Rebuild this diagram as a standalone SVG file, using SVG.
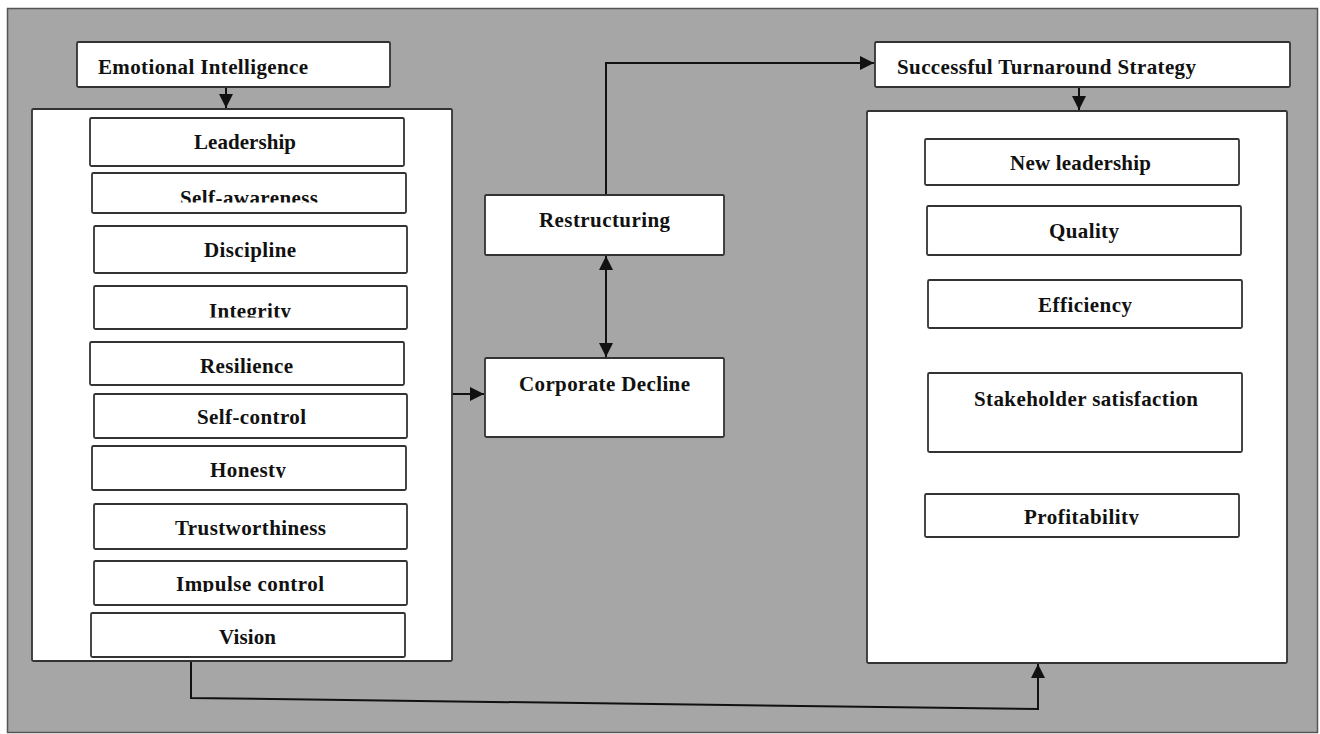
<svg xmlns="http://www.w3.org/2000/svg" width="1320" height="734" viewBox="0 0 1320 734">
<style>
.box{fill:#fff;stroke:#333;stroke-width:1.8}
.t{font-family:"Liberation Serif","Times New Roman",serif;font-weight:bold;font-size:21px;fill:#111}
.c{fill:none;stroke:#111;stroke-width:2}
</style>
<defs>
<marker id="ah" viewBox="0 0 10 10" refX="10" refY="5" markerWidth="7.5" markerHeight="7" orient="auto-start-reverse" markerUnits="strokeWidth">
<path d="M0,0 L10,5 L0,10 z" fill="#111"/>
</marker>
<clipPath id="clSA"><rect x="92" y="173" width="314" height="29.5"/></clipPath>
<clipPath id="clIN"><rect x="94" y="286" width="313" height="31.5"/></clipPath>
<clipPath id="clHO"><rect x="92" y="446" width="314" height="32"/></clipPath>
<clipPath id="clIC"><rect x="94" y="561" width="313" height="31"/></clipPath>
<clipPath id="clPR"><rect x="925" y="494" width="314" height="31"/></clipPath>
</defs>
<rect x="0" y="0" width="1320" height="734" fill="#fff"/>
<rect x="7.5" y="8.5" width="1310" height="724" fill="#a6a6a6" stroke="#555" stroke-width="1.5"/>

<g id="connectors">
<line class="c" x1="226" y1="87" x2="226" y2="108" marker-end="url(#ah)"/>
<line class="c" x1="1079" y1="87" x2="1079" y2="110" marker-end="url(#ah)"/>
<line class="c" x1="452" y1="394" x2="484" y2="394" marker-end="url(#ah)"/>
<line class="c" x1="606" y1="256" x2="606" y2="357" marker-start="url(#ah)" marker-end="url(#ah)"/>
<polyline class="c" points="606,195 606,63 874,63" marker-end="url(#ah)"/>
<polyline class="c" points="191,661 191,698 1038,709 1038,664" marker-end="url(#ah)"/>
</g>

<g id="emotional-intelligence">
<rect class="box" x="77" y="42" width="313" height="45" rx="1.5"/>
<text class="t" x="98" y="74" textLength="210" lengthAdjust="spacing">Emotional Intelligence</text>
</g>

<g id="ei-container">
<rect class="box" x="32" y="109" width="420" height="552" rx="1.5"/>
</g>

<g id="leadership">
<rect class="box" x="90" y="118" width="314" height="48" rx="1.5"/>
<text class="t" x="194" y="149" textLength="102" lengthAdjust="spacing">Leadership</text>
</g>
<g id="self-awareness">
<rect class="box" x="92" y="173" width="314" height="40" rx="1.5"/>
<text class="t" x="180" y="205" textLength="138" lengthAdjust="spacing" clip-path="url(#clSA)">Self-awareness</text>
</g>
<g id="discipline">
<rect class="box" x="94" y="226" width="313" height="47" rx="1.5"/>
<text class="t" x="204" y="257" textLength="92" lengthAdjust="spacing">Discipline</text>
</g>
<g id="integrity">
<rect class="box" x="94" y="286" width="313" height="43" rx="1.5"/>
<text class="t" x="209" y="318" textLength="82" lengthAdjust="spacing" clip-path="url(#clIN)">Integrity</text>
</g>
<g id="resilience">
<rect class="box" x="90" y="342" width="314" height="43" rx="1.5"/>
<text class="t" x="200" y="373" textLength="93" lengthAdjust="spacing">Resilience</text>
</g>
<g id="self-control">
<rect class="box" x="94" y="394" width="313" height="44" rx="1.5"/>
<text class="t" x="197" y="424" textLength="109" lengthAdjust="spacing">Self-control</text>
</g>
<g id="honesty">
<rect class="box" x="92" y="446" width="314" height="44" rx="1.5"/>
<text class="t" x="210" y="477" textLength="76" lengthAdjust="spacing" clip-path="url(#clHO)">Honesty</text>
</g>
<g id="trustworthiness">
<rect class="box" x="94" y="504" width="313" height="45" rx="1.5"/>
<text class="t" x="175" y="535" textLength="151" lengthAdjust="spacing">Trustworthiness</text>
</g>
<g id="impulse-control">
<rect class="box" x="94" y="561" width="313" height="44" rx="1.5"/>
<text class="t" x="176" y="591" textLength="148" lengthAdjust="spacing" clip-path="url(#clIC)">Impulse control</text>
</g>
<g id="vision">
<rect class="box" x="91" y="613" width="314" height="44" rx="1.5"/>
<text class="t" x="219" y="644" textLength="57" lengthAdjust="spacing">Vision</text>
</g>

<g id="restructuring">
<rect class="box" x="485" y="195" width="239" height="60" rx="1.5"/>
<text class="t" x="539" y="227" textLength="131" lengthAdjust="spacing">Restructuring</text>
</g>
<g id="corporate-decline">
<rect class="box" x="485" y="358" width="239" height="79" rx="1.5"/>
<text class="t" x="519" y="391" textLength="171" lengthAdjust="spacing">Corporate Decline</text>
</g>

<g id="successful-turnaround-strategy">
<rect class="box" x="875" y="42" width="415" height="45" rx="1.5"/>
<text class="t" x="897" y="74" textLength="299" lengthAdjust="spacing">Successful Turnaround Strategy</text>
</g>

<g id="sts-container">
<rect class="box" x="867" y="111" width="420" height="552" rx="1.5"/>
</g>

<g id="new-leadership">
<rect class="box" x="925" y="139" width="314" height="46" rx="1.5"/>
<text class="t" x="1010" y="170" textLength="141" lengthAdjust="spacing">New leadership</text>
</g>
<g id="quality">
<rect class="box" x="927" y="206" width="314" height="49" rx="1.5"/>
<text class="t" x="1049" y="238" textLength="70" lengthAdjust="spacing">Quality</text>
</g>
<g id="efficiency">
<rect class="box" x="928" y="280" width="314" height="48" rx="1.5"/>
<text class="t" x="1038" y="312" textLength="94" lengthAdjust="spacing">Efficiency</text>
</g>
<g id="stakeholder-satisfaction">
<rect class="box" x="928" y="373" width="314" height="79" rx="1.5"/>
<text class="t" x="974" y="406" textLength="224" lengthAdjust="spacing">Stakeholder satisfaction</text>
</g>
<g id="profitability">
<rect class="box" x="925" y="494" width="314" height="43" rx="1.5"/>
<text class="t" x="1024" y="524" textLength="115" lengthAdjust="spacing" clip-path="url(#clPR)">Profitability</text>
</g>
</svg>
